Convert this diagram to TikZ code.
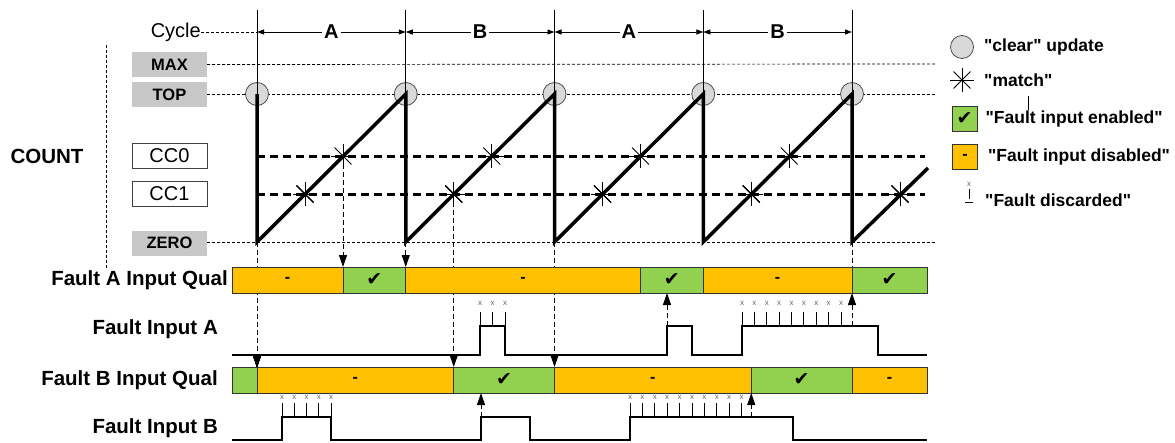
\documentclass[tikz,border=0pt]{standalone}
\usepackage{fontspec}
\setmainfont{Liberation Sans}
\newfontfamily\checkfont{DejaVu Sans}
\usepackage{tikz}
\usetikzlibrary{positioning}
\usetikzlibrary{calc}
\usetikzlibrary{arrows.meta}
\definecolor{qualgreen}{HTML}{92D050}
\definecolor{qualorange}{HTML}{FFC000}
\definecolor{lvlgray}{HTML}{C8C8C8}
\definecolor{clrgray}{HTML}{D9D9D9}
\tikzstyle{lvlbox} = [fill=lvlgray, inner sep=0pt, minimum width=75pt, minimum height=25pt,
font=\fontsize{16.5}{16.5}\selectfont\bfseries]
\tikzstyle{ccbox} = [draw=black!75, fill=white, line width=0.8pt, inner sep=0pt,
minimum width=75pt, minimum height=25pt, font=\fontsize{20}{20}\selectfont]
\tikzstyle{siglabel} = [anchor=east, inner sep=0pt, font=\fontsize{20.5}{20.5}\selectfont\bfseries]
\tikzstyle{legtext} = [anchor=west, inner sep=0pt, font=\fontsize{17.5}{17.5}\selectfont\bfseries]
\tikzstyle{clearcirc} = [circle, draw=black!70, fill=clrgray, line width=0.8pt,
minimum size=23pt, inner sep=0pt]
\tikzstyle{qualbar} = [draw=black!80, line width=0.9pt, minimum height=26pt, inner sep=0pt]
\tikzstyle{ramp} = [line width=3.5pt]
\tikzstyle{ccline} = [line width=3pt, dash pattern=on 8pt off 5pt]
\tikzstyle{refline} = [line width=0.7pt, dash pattern=on 3pt off 2pt]
\tikzstyle{cycline} = [line width=0.9pt]
\tikzstyle{cycarrow} = [line width=0.9pt, {Triangle[length=7pt,width=5pt]}-{Triangle[length=7pt,width=5pt]}]
\tikzstyle{trigline} = [line width=0.9pt, dash pattern=on 5pt off 3pt]
\tikzstyle{trig} = [trigline, -{Triangle[length=12pt,width=8pt]}]
\tikzstyle{sigline} = [line width=2.5pt]
\tikzstyle{tickline} = [line width=1pt]
\tikzstyle{xmark} = [text=black!60, inner sep=0pt, font=\fontsize{8}{8}\selectfont]
\tikzstyle{starline} = [line width=0.8pt]
\newcommand{\qon}{{\checkfont\fontsize{19}{19}\selectfont ✔}}
\newcommand{\qoff}{{\fontsize{16}{16}\selectfont\bfseries -}}
\newcommand{\dq}{\textquotedbl}
\newcommand{\matchstar}[1]{ %
  % four strokes through one point
  \foreach \ang in {0,45,90,135} { %
    \draw[starline] (#1) ++(\ang:12) -- ++(\ang+180:24) ;%
  } ;
}

\begin{document}
\begin{tikzpicture}[x=1pt, y=-1pt]
  \useasboundingbox (0,0) rectangle (1175,442);
  % cycle boundaries
  \foreach \n/\xx in {0/257, 1/405.75, 2/554.5, 3/703.25, 4/852} {
    \coordinate (cycT\n) at (\xx,10);
    \coordinate (cyc\n) at (\xx,32);
    \coordinate (top\n) at (\xx,94);
    \coordinate (zero\n) at (\xx,242);
  }
  % count levels
  \node[anchor=east, inner sep=0pt, font=\fontsize{20}{20}\selectfont] (cycle) at (201,32) {Cycle};
  \node[lvlbox] (max) at (169.5,64.5) {MAX};
  \node[lvlbox] (top) at (169.5,94.5) {TOP};
  \node[ccbox]  (cc0) at (169.5,155.5) {CC0};
  \node[ccbox]  (cc1) at (169.5,193.5) {CC1};
  \node[lvlbox] (zero) at (169.5,243) {ZERO};
  \node[siglabel, anchor=center] (count) at (47,156) {COUNT};
  \draw[refline] (106,45) -- (106,270);
  % reference lines
  \draw[refline] (cycle.east) -- (cyc0);
  \draw[refline] (max.east) -- (935,64);
  \draw[refline] (top.east |- top0) -- (935,94);
  \draw[refline] (zero.east |- zero0) -- (935,242);
  % clear updates
  \foreach \n in {0,...,4}
    \node[clearcirc] (clr\n) at (top\n) {};
  % compare values
  \draw[ccline] (257,156) -- (925,156);
  \draw[ccline] (257,194) -- (925,194);
  % cycles
  \foreach \n in {0,...,4}
    \draw[cycline] (cycT\n) -- (top\n);
  \foreach \a/\b/\l in {0/1/A, 1/2/B, 2/3/A, 3/4/B}
    \draw[cycarrow] (cyc\a) -- node[fill=white, inner sep=2pt,
      font=\fontsize{20}{20}\selectfont\bfseries] (lab\a) {\l} (cyc\b);
  % counter
  \draw[ramp] (top0) -- (zero0) -- (top1) -- (zero1) -- (top2) -- (zero2)
    -- (top3) -- (zero3) -- (top4) -- (zero4) -- (928,168);
  % matches
  \foreach \xx in {343, 491.75, 640.5, 789.25}
    \matchstar{\xx,156}
  \foreach \xx in {305, 453.75, 602.5, 751.25, 900}
    \matchstar{\xx,194}
  % triggers down
  \draw[trig] (zero0) -- (257,367);
  \draw[trig] (343,156) -- (343,267);
  \draw[trig] (zero1) -- (405.75,267);
  \draw[trig] (453.75,194) -- (453.75,367);
  \draw[trig] (zero2) -- (554.5,367);
  \draw[trigline] (zero4) -- (852,267);
  % fault A qual
  \foreach \a/\b/\c/\t [count=\i] in {232/343/qualorange/\qoff, 343/405.75/qualgreen/\qon,
      405.75/640.5/qualorange/\qoff, 640.5/703.25/qualgreen/\qon,
      703.25/852/qualorange/\qoff, 852/927/qualgreen/\qon}
    \node[qualbar, fill=\c, minimum width=\b-\a] (qa\i) at ({(\a+\b)/2},280) {\t};
  % fault B qual
  \foreach \a/\b/\c/\t [count=\i] in {232/257/qualgreen/{}, 257/453.75/qualorange/\qoff,
      453.75/554.5/qualgreen/\qon, 554.5/751.25/qualorange/\qoff,
      751.25/852/qualgreen/\qon, 852/927/qualorange/\qoff}
    \node[qualbar, fill=\c, minimum width=\b-\a] (qb\i) at ({(\a+\b)/2},380) {\t};
  % signal labels
  \node[siglabel] (qalab) at (228,280) {Fault A Input Qual};
  \node[siglabel] (falab) at (218,329) {Fault Input A};
  \node[siglabel] (qblab) at (218,380) {Fault B Input Qual};
  \node[siglabel] (fblab) at (218,428) {Fault Input B};
  % fault input A
  \draw[sigline] (232,355) -- (480,355) -- (480,326) -- (505,326) -- (505,355)
    -- (667,355) -- (667,326) -- (692,326) -- (692,355) -- (742,355) -- (742,326)
    -- (878,326) -- (878,355) -- (927,355);
  \foreach \xx in {480, 492.5, 505, 742, 754.4, 766.8, 779.1, 791.5, 803.9, 816.3, 828.6, 841} {
    \draw[tickline] (\xx,326) -- (\xx,312);
    \node[xmark] at (\xx,303) {x};
  }
  \draw[trig] (667,326) -- (667,293);
  \draw[trig] (852,326) -- (852,293);
  % fault input B
  \draw[sigline] (232,440) -- (282,440) -- (282,417) -- (331,417) -- (331,440)
    -- (481,440) -- (481,417) -- (530,417) -- (530,440) -- (630,440) -- (630,417)
    -- (793,417) -- (793,440) -- (927,440);
  \foreach \xx in {282, 294.25, 306.5, 318.75, 331, 630, 642.4, 654.8, 667.2, 679.6,
      692, 704.4, 716.8, 729.2, 741.6} {
    \draw[tickline] (\xx,417) -- (\xx,403);
    \node[xmark] at (\xx,397) {x};
  }
  \draw[trig] (481,417) -- (481,393);
  \draw[trig] (751.25,417) -- (751.25,393);
  % legend
  \node[clearcirc] (lclr) at (962,47) {};
  \node[legtext, right = 10pt of lclr] (lclrtxt) {\dq clear\dq{} update};
  \coordinate (lmatch) at (962,80);
  \matchstar{lmatch}
  \node[legtext] (lmatchtxt) at (984,80) {\dq match\dq};
  \draw[starline] (1028,96) -- (1028,110);
  \node[qualbar, fill=qualgreen, minimum width=25pt, minimum height=25pt] (lon) at (964.5,118.5) {\qon};
  \node[legtext, right = 8pt of lon] (lontxt) {\dq Fault input enabled\dq};
  \node[qualbar, fill=qualorange, minimum width=25pt, minimum height=25pt] (loff) at (965,157) {\qoff};
  \node[legtext, right = 10pt of loff] (lofftxt) {\dq Fault input disabled\dq};
  \node[xmark] (ldisc) at (969,184) {x};
  \draw[tickline] (969,189) -- (969,199);
  \draw[tickline] (965,202) -- (973,202);
  \node[legtext] (ldisctxt) at (985,200) {\dq Fault discarded\dq};
\end{tikzpicture}
\end{document}
